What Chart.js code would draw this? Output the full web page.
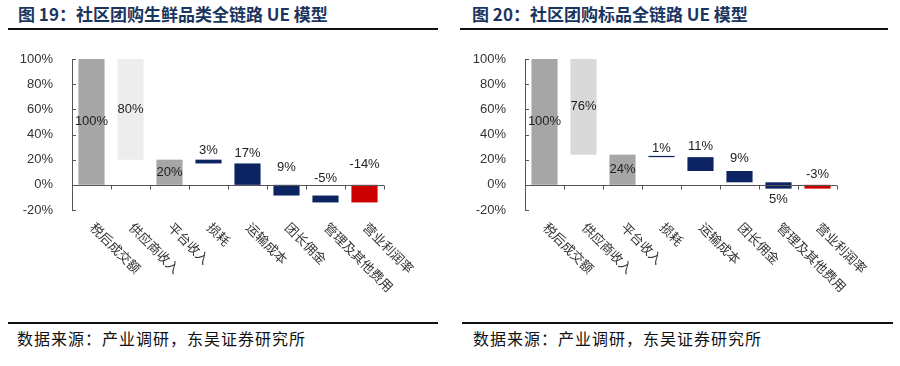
<!DOCTYPE html>
<html>
<head>
<meta charset="utf-8">
<script src="https://cdn.jsdelivr.net/npm/chart.js@4.4.1/dist/chart.umd.min.js"></script>
<style>
    body { margin: 0; width: 900px; height: 366px; background: #fff; position: relative; overflow: hidden; }
    .title { position: absolute; top: 3px; font-family: "Noto Sans CJK SC", sans-serif; font-weight: bold; font-size: 17px; line-height: 22px; color: #1B3561; white-space: nowrap; }
    .rule { position: absolute; height: 2px; background: #111; }
    .source { position: absolute; top: 327px; font-family: "Noto Sans CJK SC", sans-serif; font-size: 16px; line-height: 22px; letter-spacing: 1px; color: #111; white-space: nowrap; }
    canvas { position: absolute; top: 40px; }
</style>
</head>
<body>
<div class="title" style="left:18px">图 19：社区团购生鲜品类全链路 UE 模型</div>
<div class="rule" style="left:8px; width:430px; top:28px"></div>
<div class="title" style="left:472px">图 20：社区团购标品全链路 UE 模型</div>
<div class="rule" style="left:460px; width:428px; top:28px"></div>

<canvas id="c19" width="450" height="270" style="left:0px"></canvas>
<canvas id="c20" width="450" height="270" style="left:450px"></canvas>

<div class="rule" style="left:8px; width:430px; top:322px"></div>
<div class="source" style="left:17px">数据来源：产业调研，东吴证券研究所</div>
<div class="rule" style="left:462px; width:431px; top:322px"></div>
<div class="source" style="left:473px">数据来源：产业调研，东吴证券研究所</div>

<script>
// категории одинаковые для обоих графиков
const categories = ['税后成交额', '供应商收入', '平台收入', '损耗', '运输成本', '团长佣金', '管理及其他费用', '营业利润率'];
const yTicks = [-20, 0, 20, 40, 60, 80, 100];

// 图19: плавающие столбцы [начало, конец], %
const fresh = [[0, 100], [20, 100], [0, 20], [17, 20], [0, 17], [0, -8.5], [-8.5, -14], [0, -14]];
const freshLabels = ['100%', '80%', '20%', '3%', '17%', '9%', '-5%', '-14%'];

// 图20
const standard = [[0, 100], [24, 100], [0, 24], [22, 23], [11, 22], [2, 11], [2, -3], [0, -3]];
const standardLabels = ['100%', '76%', '24%', '1%', '11%', '9%', '5%', '-3%'];

const GRAY = '#A6A6A6', NAVY = '#0C2461', RED = '#CC0000';

// оси, подписи категорий и подписи значений рисуем сами
const axisPlugin = {
    id: 'axisPlugin',
    afterDraw(chart) {
        const ctx = chart.ctx;
        const xs = chart.scales.x, ys = chart.scales.y;
        const area = chart.chartArea;
        const opts = chart.options.plugins.axisPlugin;
        const step = xs.width / categories.length;
        const zero = ys.getPixelForValue(0);

        ctx.save();
        ctx.strokeStyle = '#555';
        ctx.lineWidth = 1;
        ctx.beginPath();
        // вертикальная ось
        ctx.moveTo(area.left + 0.5, ys.getPixelForValue(yTicks[yTicks.length - 1]));
        ctx.lineTo(area.left + 0.5, ys.getPixelForValue(yTicks[0]));
        yTicks.forEach(v => {
            const py = Math.round(ys.getPixelForValue(v)) + 0.5;
            ctx.moveTo(area.left, py);
            ctx.lineTo(area.left + 4, py);
        });
        // горизонтальная ось на нуле
        const zy = Math.round(zero) + 0.5;
        ctx.moveTo(area.left, zy);
        ctx.lineTo(area.right, zy);
        categories.forEach((c, i) => {
            const px = Math.round(xs.getPixelForValue(i) + step / 2) + 0.5;
            ctx.moveTo(px, zy);
            ctx.lineTo(px, zy + 4);
        });
        ctx.stroke();

        // подписи категорий под углом 45°
        ctx.fillStyle = '#333';
        ctx.font = '13px "Noto Sans CJK SC"';
        ctx.textAlign = 'left';
        ctx.textBaseline = 'middle';
        categories.forEach((c, i) => {
            ctx.save();
            ctx.translate(xs.getPixelForValue(i) + 1, area.bottom + 15);
            ctx.rotate(Math.PI / 4);
            ctx.fillText(c, 0, 0);
            ctx.restore();
        });

        // подписи значений
        ctx.fillStyle = '#222';
        ctx.font = '13px "Liberation Sans"';
        ctx.textAlign = 'center';
        const meta = chart.getDatasetMeta(0);
        meta.data.forEach((bar, i) => {
            const top = Math.min(bar.y, bar.base);
            const bottom = Math.max(bar.y, bar.base);
            let y = (top + bottom) / 2;
            if (opts.place[i] === 'above') y = top - opts.gap[i];
            if (opts.place[i] === 'below') y = bottom + opts.gap[i];
            ctx.fillText(opts.labels[i], bar.x, y);
        });
        ctx.restore();
    }
};

function makeChart(id, values, labels, colors, place, gap, axisWidth) {
    new Chart(document.getElementById(id), {
        type: 'bar',
        data: {
            labels: categories,
            datasets: [{
                data: values,
                backgroundColor: colors,
                borderWidth: 0,
                categoryPercentage: 1,
                barPercentage: 0.67
            }]
        },
        options: {
            responsive: false,
            animation: false,
            devicePixelRatio: 1,
            layout: { padding: { top: 19, right: 450 - 72 - 312 - (axisWidth - 72), bottom: 100, left: 0 } },
            plugins: {
                legend: { display: false },
                tooltip: { enabled: false },
                axisPlugin: { labels: labels, place: place, gap: gap }
            },
            scales: {
                x: { display: false },
                y: {
                    min: -20,
                    max: 100,
                    afterFit: s => { s.width = axisWidth; },
                    afterBuildTicks: s => { s.ticks = yTicks.map(v => ({ value: v })); },
                    grid: { display: false },
                    border: { display: false },
                    ticks: {
                        padding: 11,
                        color: '#333',
                        font: { family: 'Liberation Sans', size: 13 },
                        callback: v => v + '%'
                    }
                }
            }
        },
        plugins: [axisPlugin]
    });
}

makeChart('c19', fresh, freshLabels,
    [GRAY, '#EDEDED', GRAY, NAVY, NAVY, NAVY, NAVY, RED],
    ['center', 'center', 'center', 'above', 'above', 'above', 'above', 'above'],
    [0, 0, 0, 9, 10, 17, 17, 20], 72);

makeChart('c20', standard, standardLabels,
    [GRAY, '#D9D9D9', GRAY, NAVY, NAVY, NAVY, NAVY, RED],
    ['center', 'center', 'center', 'above', 'above', 'above', 'below', 'above'],
    [0, 0, 0, 7, 11, 13, 11, 10], 75);
</script>
</body>
</html>
